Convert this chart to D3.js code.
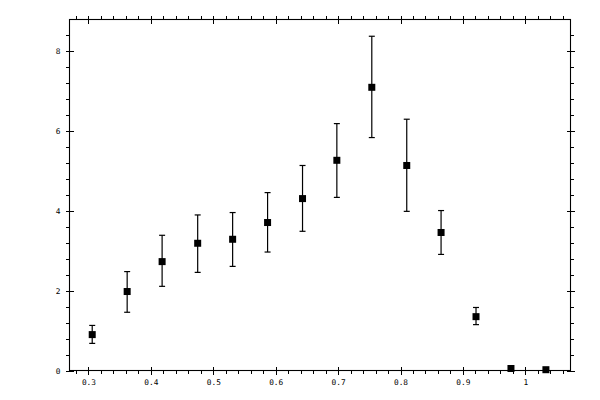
<!DOCTYPE html>
<html>
<head>
<meta charset="utf-8">
<script src="https://cdn.jsdelivr.net/npm/d3@7"></script>
<style>
  body { margin: 0; background: #fff; }
  .axis text { font-family: "DejaVu Sans Mono", monospace; font-size: 7.8px; fill: #000; }
  .axis path, .axis line { stroke: #000; stroke-width: 1; shape-rendering: crispEdges; }
</style>
</head>
<body>
<div id="chart"></div>
<script>
// data
const xVals = [0.306, 0.362, 0.418, 0.475, 0.531, 0.587, 0.643, 0.698, 0.754, 0.810, 0.865, 0.921, 0.977, 1.033];
const yVals = [0.90, 1.98, 2.73, 3.19, 3.29, 3.71, 4.31, 5.27, 7.10, 5.14, 3.46, 1.35, 0.05, 0.02];
const yHigh = [1.13, 2.48, 3.39, 3.90, 3.96, 4.46, 5.14, 6.19, 8.38, 6.30, 4.01, 1.58, 0.05, 0.02];
const yLow  = [0.68, 1.46, 2.11, 2.46, 2.61, 2.97, 3.49, 4.34, 5.84, 3.99, 2.91, 1.15, 0.05, 0.02];
const xTicks = [0.3, 0.4, 0.5, 0.6, 0.7, 0.8, 0.9, 1.0];
const yTicks = [0, 2, 4, 6, 8];

const margin = { top: 19.5, right: 29.5, bottom: 29.5, left: 69.5 };
const width = 600 - margin.left - margin.right;
const height = 400 - margin.top - margin.bottom;

const data = xVals.map((x, i) => ({ x, y: yVals[i], hi: yHigh[i], lo: yLow[i] }));

const svg = d3.select('#chart')
  .append('svg')
  .attr('width', 600)
  .attr('height', 400)
  .append('g')
  .attr('transform', 'translate(' + margin.left + ',' + margin.top + ')');

const xScale = d3.scaleLinear().domain([0.2696, 1.0724]).range([0, width]);
const yScale = d3.scaleLinear().domain([0, 8.8]).range([height, 0]);

const xMinor = d3.range(0.28, 1.0724, 0.02).filter(v => Math.abs(v * 10 - Math.round(v * 10)) > 1e-6);
const yMinor = d3.range(0, 8.8, 0.4).filter(v => Math.abs(v / 2 - Math.round(v / 2)) > 1e-6);

const fmtX = d => (d === 1 ? '1' : d3.format('.1f')(d));

// frame
svg.append('rect')
  .attr('width', width)
  .attr('height', height)
  .attr('fill', 'none')
  .attr('stroke', '#000')
  .attr('stroke-width', 1.1);

function drawAxes(g, axisFn, scale, majors, minors, fmt, labels) {
  // minor ticks, outward
  g.append('g').attr('class', 'axis')
    .call(axisFn(scale).tickValues(minors).tickSize(3.5).tickFormat(''))
    .call(s => s.select('.domain').remove());
  // major ticks, outward part with labels
  g.append('g').attr('class', 'axis')
    .call(axisFn(scale).tickValues(majors).tickSize(4).tickPadding(5)
      .tickFormat(labels ? fmt : ''))
    .call(s => s.select('.domain').remove());
  // major ticks, inward part
  g.append('g').attr('class', 'axis')
    .call(axisFn(scale).tickValues(majors).tickSize(-4).tickFormat(''))
    .call(s => s.select('.domain').remove());
}

drawAxes(svg.append('g').attr('transform', `translate(0,${height})`),
  d3.axisBottom, xScale, xTicks, xMinor, fmtX, true);
drawAxes(svg.append('g'), d3.axisTop, xScale, xTicks, xMinor, fmtX, false);
drawAxes(svg.append('g'), d3.axisLeft, yScale, yTicks, yMinor, d3.format('d'), true);
drawAxes(svg.append('g').attr('transform', `translate(${width},0)`),
  d3.axisRight, yScale, yTicks, yMinor, d3.format('d'), false);

// error bars
const bars = svg.append('g').attr('stroke', '#000').attr('stroke-width', 1.2);
const withErr = data.filter(d => d.hi > d.lo);

bars.selectAll('line.err')
  .data(withErr)
  .enter()
  .append('line')
  .attr('class', 'err')
  .attr('x1', d => xScale(d.x))
  .attr('x2', d => xScale(d.x))
  .attr('y1', d => yScale(d.hi))
  .attr('y2', d => yScale(d.lo));

bars.selectAll('line.cap-hi')
  .data(withErr)
  .enter()
  .append('line')
  .attr('class', 'cap-hi')
  .attr('x1', d => xScale(d.x) - 3)
  .attr('x2', d => xScale(d.x) + 3)
  .attr('y1', d => yScale(d.hi))
  .attr('y2', d => yScale(d.hi));

bars.selectAll('line.cap-lo')
  .data(withErr)
  .enter()
  .append('line')
  .attr('class', 'cap-lo')
  .attr('x1', d => xScale(d.x) - 3)
  .attr('x2', d => xScale(d.x) + 3)
  .attr('y1', d => yScale(d.lo))
  .attr('y2', d => yScale(d.lo));

// markers
svg.selectAll('rect.pt')
  .data(data)
  .enter()
  .append('rect')
  .attr('class', 'pt')
  .attr('x', d => xScale(d.x) - 3.5)
  .attr('y', d => yScale(d.y) - 3.5)
  .attr('width', 7)
  .attr('height', 7)
  .style('fill', '#000');
</script>
</body>
</html>
